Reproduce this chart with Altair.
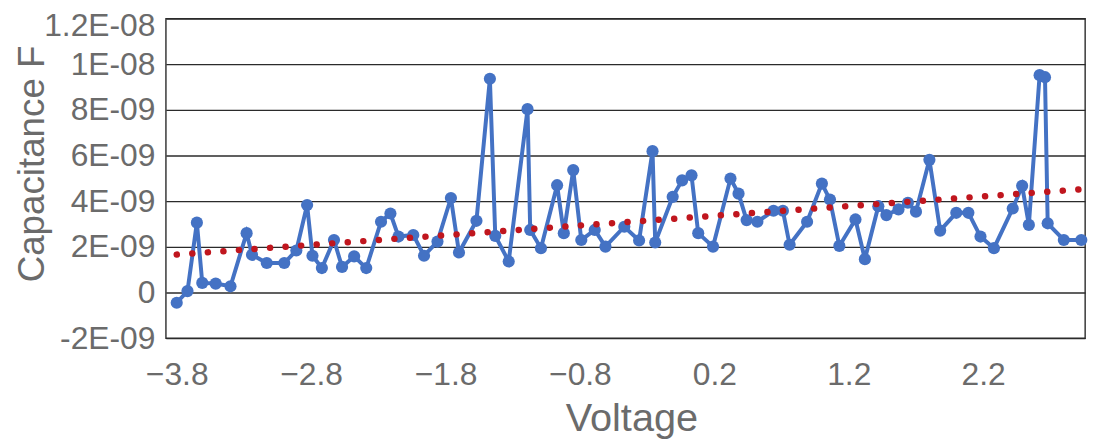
import json
import altair as alt
import pandas as pd

# Voltage (V)
voltage = [-3.80, -3.72, -3.65, -3.61, -3.51, -3.40, -3.28, -3.24, -3.13, -3.00,
           -2.91, -2.83, -2.79, -2.72, -2.63, -2.57, -2.48, -2.39, -2.28, -2.21,
           -2.15, -2.04, -1.96, -1.86, -1.76, -1.70, -1.57, -1.47, -1.43, -1.33,
           -1.19, -1.17, -1.09, -0.97, -0.92, -0.85, -0.79, -0.69, -0.61, -0.47,
           -0.36, -0.26, -0.24, -0.11, -0.04, 0.03, 0.08, 0.19, 0.32, 0.38,
           0.44, 0.52, 0.64, 0.71, 0.76, 0.89, 1.00, 1.06, 1.13, 1.25,
           1.32, 1.42, 1.48, 1.57, 1.64, 1.70, 1.80, 1.88, 2.00, 2.09,
           2.18, 2.28, 2.42, 2.49, 2.54, 2.62, 2.66, 2.68, 2.80, 2.93]

# Capacitance in nF (1E-09 F)
capacitance_nF = [-0.45, 0.06, 3.06, 0.42, 0.39, 0.27, 2.60, 1.65, 1.29, 1.29,
                  1.84, 3.83, 1.61, 1.07, 2.30, 1.12, 1.58, 1.07, 3.10, 3.46,
                  2.45, 2.52, 1.61, 2.23, 4.14, 1.75, 3.14, 9.36, 2.48, 1.36,
                  8.03, 2.74, 1.94, 4.70, 2.60, 5.36, 2.30, 2.74, 2.01, 2.88,
                  2.28, 6.19, 2.19, 4.19, 4.91, 5.13, 2.60, 2.01, 4.99, 4.33,
                  3.17, 3.10, 3.58, 3.58, 2.09, 3.10, 4.77, 4.07, 2.04, 3.20,
                  1.46, 3.78, 3.39, 3.64, 3.93, 3.54, 5.81, 2.71, 3.49, 3.49,
                  2.45, 1.94, 3.68, 4.67, 2.96, 9.52, 9.43, 3.03, 2.30, 2.30]

x_ticks = [-3.8, -2.8, -1.8, -0.8, 0.2, 1.2, 2.2]
y_ticks = [-2e-9, 0, 2e-9, 4e-9, 6e-9, 8e-9, 1e-8, 1.2e-8]
y_tick_labels = ["-2E-09", "0", "2E-09", "4E-09", "6E-09", "8E-09", "1E-08", "1.2E-08"]

df = pd.DataFrame({
    "Voltage": voltage,
    "Capacitance": [c * 1e-9 for c in capacitance_nF],
})

FONT = "Liberation Sans"
TEXT = "#6b6b6b"
BLUE = "#4472C4"

label_expr = json.dumps(y_tick_labels) + "[round(datum.value / 2e-9) + 1]"

x_enc = alt.X("Voltage:Q",
              scale=alt.Scale(domain=[-3.881, 2.958], nice=False, zero=False),
              axis=alt.Axis(values=x_ticks, format=".1f", title="Voltage",
                            grid=False, ticks=False, domain=False,
                            labelFontSize=32, labelColor=TEXT, labelFont=FONT,
                            labelPadding=22, labelFlush=False,
                            titleFontSize=40, titleColor=TEXT, titleFont=FONT,
                            titleFontWeight="normal",
                            titleX=469, titleY=93, titleBaseline="alphabetic"))

y_enc = alt.Y("Capacitance:Q",
              scale=alt.Scale(domain=[-2e-9, 1.2e-8], nice=False),
              axis=alt.Axis(values=y_ticks, labelExpr=label_expr,
                            title="Capacitance F",
                            grid=True, gridColor="#2b2b2b", gridWidth=1.4,
                            gridOpacity=1,
                            ticks=False, domain=False,
                            labelFontSize=32, labelColor=TEXT, labelFont=FONT,
                            labelPadding=11,
                            labelOffset={"condition": {"test": "datum.value > 1.1e-8",
                                                       "value": 7},
                                         "value": 0},
                            titleFontSize=37, titleColor=TEXT, titleFont=FONT,
                            titleFontWeight="normal",
                            titleX=-134, titleY=146, titleAngle=-90,
                            titleAlign="center", titleBaseline="middle"))

base = alt.Chart(df)

line = base.mark_line(color=BLUE, strokeWidth=4).encode(x=x_enc, y=y_enc)
points = base.mark_circle(color=BLUE, size=150, opacity=1).encode(x=x_enc, y=y_enc)

trend = base.transform_regression(
    "Voltage", "Capacitance", method="linear", extent=[-3.8, 2.93]
).mark_line(color="#C0161E", strokeWidth=6.5, strokeDash=[0.1, 15.6],
            strokeCap="round").encode(x=x_enc, y=y_enc)

chart = alt.layer(line, points, trend).properties(
    width=926, height=322,
    autosize=alt.AutoSizeParams(type="none"),
    padding={"left": 159, "top": 9, "right": 7, "bottom": 100},
).configure_view(stroke="#2b2b2b", strokeWidth=1.4)

chart.save("out.html", embed_options={"renderer": "svg", "actions": False})
